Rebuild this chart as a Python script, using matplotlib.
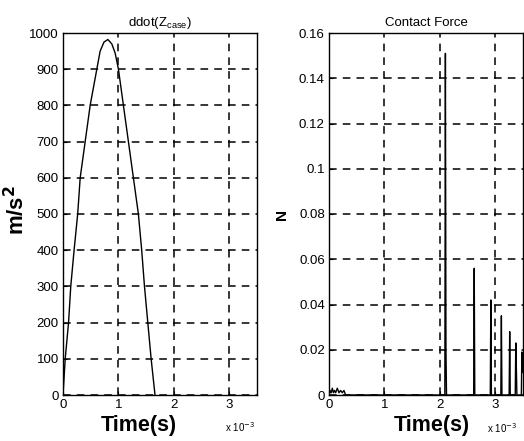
import matplotlib
matplotlib.use('Agg')
import matplotlib.pyplot as plt

plt.rcParams['font.family'] = ['Liberation Sans', 'DejaVu Sans']

# ddot(Z_case) acceleration, time in ms, value in m/s^2
acc_t = [0, 0.04, 0.10, 0.14, 0.20, 0.265, 0.31, 0.40, 0.49, 0.61, 0.67, 0.74, 0.81,
         0.88, 0.94, 1.00, 1.09, 1.18, 1.27, 1.36, 1.42, 1.47, 1.53, 1.59, 1.66]
acc_v = [0, 100, 200, 300, 400, 500, 600, 700, 800, 900, 950, 975, 982,
         970, 945, 900, 800, 700, 600, 500, 400, 300, 200, 100, 0]

# contact force, time in ms, force in N
force_t = [0, 0.02, 0.04, 0.06, 0.08, 0.10, 0.12, 0.15, 0.18, 0.21, 0.24, 0.27, 0.30,
           2.09, 2.10, 2.11, 2.12,
           2.61, 2.62, 2.63,
           2.91, 2.92, 2.93,
           3.10, 3.11, 3.12,
           3.25, 3.26, 3.27,
           3.36, 3.37, 3.38, 3.39,
           3.47, 3.48, 3.49]
force_n = [0, 0.002, 0.001, 0.003, 0.001, 0.002, 0.001, 0.003, 0.001, 0.002, 0.001, 0.002, 0,
           0, 0.151, 0.02, 0,
           0, 0.056, 0,
           0, 0.042, 0,
           0, 0.035, 0,
           0, 0.028, 0,
           0, 0.023, 0.012, 0,
           0, 0.019, 0.01]

acc_ticks = list(range(0, 1001, 100))
force_ticks = [0, 0.02, 0.04, 0.06, 0.08, 0.1, 0.12, 0.14, 0.16]
force_labels = ['0', '0.02', '0.04', '0.06', '0.08', '0.1', '0.12', '0.14', '0.16']
time_ticks = [0, 1e-3, 2e-3, 3e-3]
time_labels = ['0', '1', '2', '3']

fig = plt.figure(figsize=(5.24, 4.41), dpi=100)
W, H = 524, 441
ax1 = fig.add_axes([63 / W, 46 / H, 194 / W, 362 / H])
ax2 = fig.add_axes([329 / W, 46 / H, 194 / W, 362 / H])

ax1.plot([t * 1e-3 for t in acc_t], acc_v, color='black', lw=1.0)
ax2.plot([t * 1e-3 for t in force_t], force_n, color='black', lw=1.0)

for ax in (ax1, ax2):
    ax.set_xlim(0, 3.5e-3)
    ax.set_xticks(time_ticks)
    ax.set_xticklabels(time_labels, fontsize=10.5)
    ax.grid(True, color='black', linestyle=(0, (5, 4)), linewidth=1.1)
    ax.tick_params(direction='in', length=3, width=0.8, labelsize=9.5, pad=3)
    for s in ax.spines.values():
        s.set_linewidth(1.0)
        s.set_color('black')

ax1.set_ylim(0, 1000)
ax1.set_yticks(acc_ticks)
ax1.set_title(r'ddot(Z$_{\mathregular{case}}$)', fontsize=9.5, pad=5)
ax1.set_xlabel('Time(s)', fontsize=15.5, fontweight='bold')
ax1.xaxis.set_label_coords(0.39, -0.055)
ax1.set_ylabel(r'm/s$^{\mathbf{2}}$', fontsize=16, fontweight='bold')
ax1.yaxis.set_label_coords(-0.175, 0.51)

ax2.set_ylim(0, 0.16)
ax2.set_yticks(force_ticks)
ax2.set_yticklabels(force_labels)
ax2.set_title('Contact Force', fontsize=9.5, pad=5)
ax2.set_xlabel('Time(s)', fontsize=15.5, fontweight='bold')
ax2.xaxis.set_label_coords(0.53, -0.055)
ax2.set_ylabel('N', fontsize=11, fontweight='bold')
ax2.yaxis.set_label_coords(-0.205, 0.5)

fig.text(255 / W, 1 - 427 / H, r'x 10$^{-3}$', fontsize=7, ha='right', va='center')
fig.text(517 / W, 1 - 428 / H, r'x 10$^{-3}$', fontsize=7, ha='right', va='center')

fig.savefig('out.png', dpi=100)
